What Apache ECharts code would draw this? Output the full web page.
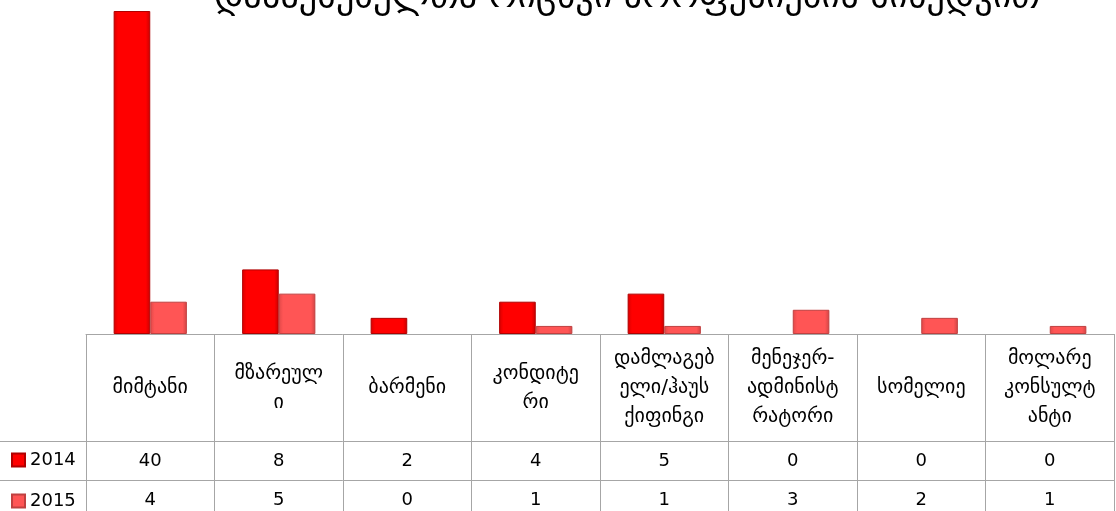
<!DOCTYPE html>
<html>
<head>
<meta charset="utf-8">
<script src="https://cdn.jsdelivr.net/npm/echarts@6/dist/echarts.min.js"></script>
<style>
html,body{margin:0;padding:0;background:#fff;}
#chart{width:1116px;height:511px;}
</style>
</head>
<body>
<div id="chart"></div>
<script>
const titleText = "დასაქმებულთა რიცხვი პროფესიების მიხედვით";
const categories = ["მიმტანი", "მზარეული", "ბარმენი", "კონდიტერი", "დამლაგებელი/ჰაუს ქიფინგი", "მენეჯერ-ადმინისტრატორი", "სომელიე", "მოლარე კონსულტანტი"];
const tickLabels = ["მიმტანი", "მზარეულ\nი", "ბარმენი", "კონდიტე\nრი", "დამლაგებ\nელი/ჰაუს\nქიფინგი", "მენეჯერ-\nადმინისტ\nრატორი", "სომელიე", "მოლარე\nკონსულტ\nანტი"];
const seriesNames = ["2014", "2015"];
const values2014 = [40, 8, 2, 4, 5, 0, 0, 0];
const values2015 = [4, 5, 0, 1, 1, 3, 2, 1];

const chart = echarts.init(document.getElementById('chart'));
const lineColor = '#a6a6a6';
const numFont = '"DejaVu Sans", sans-serif';
const geoFont = '"DejaVu Sans", sans-serif';

function rowAxis(vals, offset) {
  return {
    type: 'category', gridIndex: 0, position: 'bottom', offset: offset,
    data: categories,
    axisLine: {show: true, lineStyle: {color: lineColor, width: 1}},
    axisTick: {show: false},
    axisLabel: {
      interval: 0, margin: 20, verticalAlign: 'middle', color: '#000', fontSize: 18, fontFamily: numFont,
      formatter: (v, i) => String(vals[i])
    }
  };
}
function legendAt(name, top) {
  return {
    orient: 'vertical', left: 6, top: top,
    itemWidth: 13, itemHeight: 13, icon: 'rect', itemGap: 0,
    textStyle: {fontSize: 18, fontFamily: numFont, color: '#000'},
    data: [name]
  };
}
const hideZero = arr => arr.map(v => (v === 0 ? null : v));

chart.setOption({
  animation: false,
  title: {
    text: titleText, left: 622, top: -25, textAlign: 'center',
    textStyle: {fontFamily: geoFont, fontSize: 36, fontWeight: 'normal', color: '#000'}
  },
  legend: [legendAt(seriesNames[0], 446), legendAt(seriesNames[1], 487)],
  grid: {left: 86, right: 2, top: 11, bottom: 177},
  xAxis: [
    {
      type: 'category', data: categories, position: 'bottom',
      axisLine: {show: true, lineStyle: {color: lineColor, width: 1}},
      axisTick: {show: true, interval: 0, length: 180, lineStyle: {color: lineColor}},
      axisLabel: {
        interval: 0, margin: 54, verticalAlign: 'middle', align: 'center',
        color: '#000', fontSize: 20, lineHeight: 29, fontFamily: geoFont,
        formatter: (v, i) => tickLabels[i]
      }
    },
    rowAxis(values2014, 107),
    rowAxis(values2015, 146)
  ],
  yAxis: {type: 'value', min: 0, max: 40, show: false, splitLine: {show: false}},
  graphic: [
    {type: 'line', shape: {x1: 0, y1: 441.5, x2: 86, y2: 441.5}, style: {stroke: lineColor, lineWidth: 1}, silent: true},
    {type: 'line', shape: {x1: 0, y1: 480.5, x2: 86, y2: 480.5}, style: {stroke: lineColor, lineWidth: 1}, silent: true}
  ],
  series: [
    {
      name: seriesNames[0], type: 'bar', data: hideZero(values2014), xAxisIndex: 0,
      barGap: '0%', barCategoryGap: '43%',
      itemStyle: {
        color: new echarts.graphic.LinearGradient(0, 0, 1, 0, [
          {offset: 0, color: '#d80000'}, {offset: 0.12, color: '#ff0000'},
          {offset: 0.88, color: '#ff0000'}, {offset: 1, color: '#c80000'}
        ]),
        borderColor: '#b00000', borderWidth: 1
      }
    },
    {
      name: seriesNames[1], type: 'bar', data: hideZero(values2015), xAxisIndex: 0,
      barGap: '0%', barCategoryGap: '43%',
      itemStyle: {
        color: new echarts.graphic.LinearGradient(0, 0, 1, 0, [
          {offset: 0, color: '#e04848'}, {offset: 0.12, color: '#ff5555'},
          {offset: 0.88, color: '#ff5555'}, {offset: 1, color: '#d04444'}
        ]),
        borderColor: '#c04040', borderWidth: 1
      }
    }
  ]
});
</script>
</body>
</html>
